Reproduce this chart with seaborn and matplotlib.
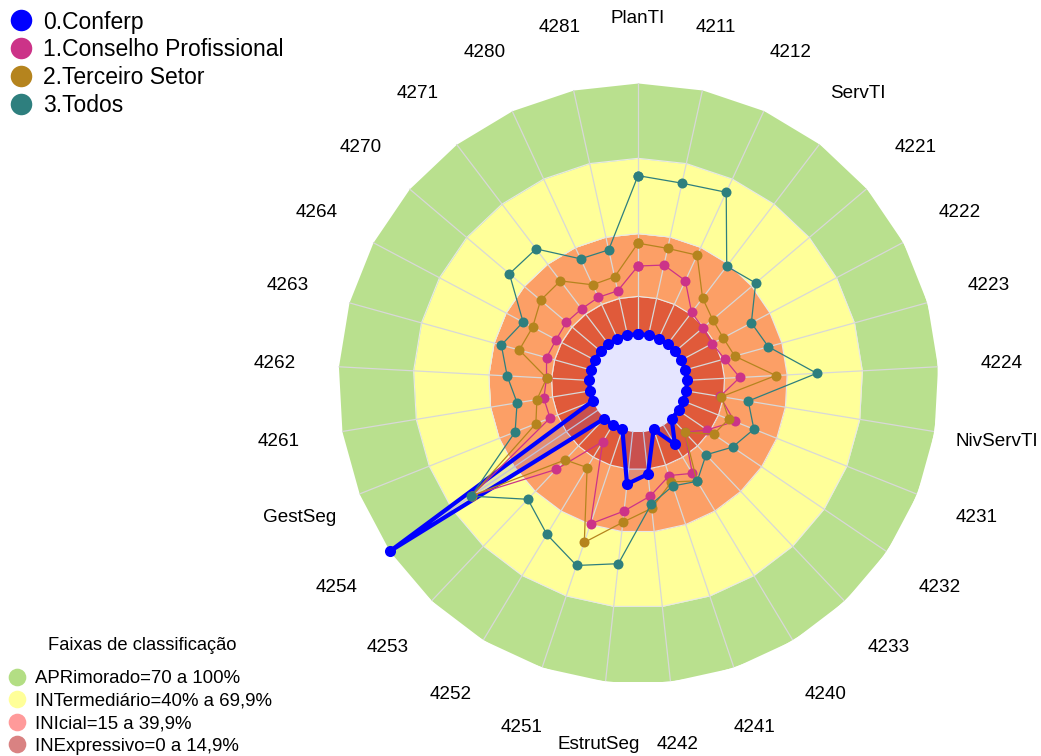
import numpy as np
import seaborn as sns
import matplotlib.pyplot as plt
from matplotlib.lines import Line2D

# categories around the radar, clockwise from the top
labels = ["PlanTI", "4211", "4212", "ServTI", "4221", "4222", "4223", "4224",
          "NivServTI", "4231", "4232", "4233", "4240", "4241", "4242", "EstrutSeg",
          "4251", "4252", "4253", "4254", "GestSeg", "4261", "4262", "4263",
          "4264", "4270", "4271", "4280", "4281"]

# series values (%)
conferp = [0, 0, 0, 0, 0, 0, 0, 0, 0, 0, 0, 0, 9, 0, 17, 21,
           0, 0, 0, 100, 0, 0, 0, 0, 0, 0, 0, 0, 0]
conselho = [27.1, 28.6, 25.4, 15.8, 14.4, 14.0, 16.3, 21.1, 13.6, 21.9, 13.8, 7.5,
            22.5, 19.4, 25.8, 31.8, 39.7, 7.7, 27.9, 60.5, 18.2, 18.5, 17.0, 18.3,
            17.4, 17.9, 17.6, 18.1, 18.1]
terceiro = [36.2, 35.4, 36.6, 23.0, 19.5, 18.9, 20.5, 35.5, 14.2, 19.4, 16.9, 7.5,
            26.0, 22.1, 30.7, 36.3, 47.5, 19.8, 22.7, 60.5, 24.3, 21.3, 16.9, 29.6,
            28.0, 31.4, 31.6, 23.6, 23.8]
todos = [63.1, 62.0, 64.2, 38.9, 42.0, 31.6, 34.4, 51.8, 25.0, 30.2, 26.0, 19.9,
         26.2, 23.8, 29.1, 52.9, 57.2, 50.9, 44.3, 60.8, 33.2, 29.3, 32.7, 37.0,
         32.3, 47.7, 47.6, 35.0, 34.8]

series_names = ["0.Conferp", "1.Conselho Profissional", "2.Terceiro Setor", "3.Todos"]
series_colors = ["#0000FF", "#CC3388", "#B5841E", "#2E7F7E"]

# classification bands
band_edges = [0, 15, 40, 70, 100]
band_colors = ["#E05A3A", "#FC9F66", "#FFFF99", "#B9E08E"]
band_names = ["APRimorado=70 a 100%", "INTermediário=40% a 69,9%",
              "INIcial=15 a 39,9%", "INExpressivo=0 a 14,9%"]
band_legend_colors = ["#B3DE84", "#FFFF99", "#FF9A9A", "#D98282"]

sns.set_theme(style="white")
plt.rcParams['font.family'] = ['Liberation Sans', 'DejaVu Sans']
plt.rcParams['text.color'] = 'black'

fig = plt.figure(figsize=(10.41, 7.56), dpi=100)
ax = fig.add_axes([338 / 1041, 73 / 756, 600 / 1041, 600 / 756], projection='polar')
ax.set_theta_offset(np.pi / 2)
ax.set_theta_direction(-1)

n = len(labels)
angles = np.arange(n) * 2 * np.pi / n
theta = np.append(angles, angles[0])

# bands (straight-edged rings)
for lo, hi, c in zip(band_edges[:-1], band_edges[1:], band_colors):
    ax.fill_between(theta, lo, hi, color=c, lw=0, zorder=0)
for r in band_edges[1:-1]:
    ax.plot(theta, [r] * len(theta), color="#E8E8E8", lw=0.8, zorder=0.5)

# spokes
for a in angles:
    ax.plot([a, a], [0, 100], color="#D8D8D8", lw=0.9, zorder=1)

# the Conferp polygon is filled lightly
closed = np.append(conferp, conferp[0])
ax.fill(theta, closed, color="#0000FF", alpha=0.1, lw=0, zorder=2)

all_series = [conferp, conselho, terceiro, todos]
widths = [3.0, 0.9, 0.9, 0.9]
msizes = [8, 7.2, 7.2, 7.2]
for k, (vals, c) in enumerate(zip(all_series, series_colors)):
    v = np.append(vals, vals[0])
    sns.lineplot(x=theta, y=v, sort=False, estimator=None, ax=ax, color=c,
                 lw=widths[k], marker='o', markersize=msizes[k],
                 markeredgewidth=0, zorder=3 + k, clip_on=False)

for a, lab in zip(angles, labels):
    ax.text(a, 125.5, lab, ha='center', va='center', fontsize=13.6,
            color='black', clip_on=False)

ax.set_ylim(-19.5, 100)
ax.set_xticks([])
ax.set_yticks([])
ax.set_xlabel("")
ax.set_ylabel("")
ax.grid(False)
ax.spines['polar'].set_visible(False)

handles = [Line2D([], [], ls='None', marker='o', markersize=15.5,
                  markerfacecolor=c, markeredgewidth=0) for c in series_colors]
fig.legend(handles, series_names, loc='upper left',
           bbox_to_anchor=(9.5 / 1041, 1 - 10.5 / 756), frameon=False,
           fontsize=16.5, handletextpad=0.45, labelspacing=0.215,
           borderpad=0, borderaxespad=0, handlelength=1.0, labelcolor='black')

fig.text(142 / 1041, 1 - 645 / 756, "Faixas de classificação", ha='center',
         va='center', fontsize=13.2, color='black')
handles2 = [Line2D([], [], ls='None', marker='o', markersize=12.7,
                   markerfacecolor=c, markeredgewidth=0) for c in band_legend_colors]
fig.legend(handles2, band_names, loc='lower left',
           bbox_to_anchor=(8 / 1041, 1.3 / 756), frameon=False,
           fontsize=13.4, handletextpad=0.45, labelspacing=0.29,
           borderpad=0, borderaxespad=0, handlelength=1.0, labelcolor='black')

fig.savefig("out.png", dpi=100)
